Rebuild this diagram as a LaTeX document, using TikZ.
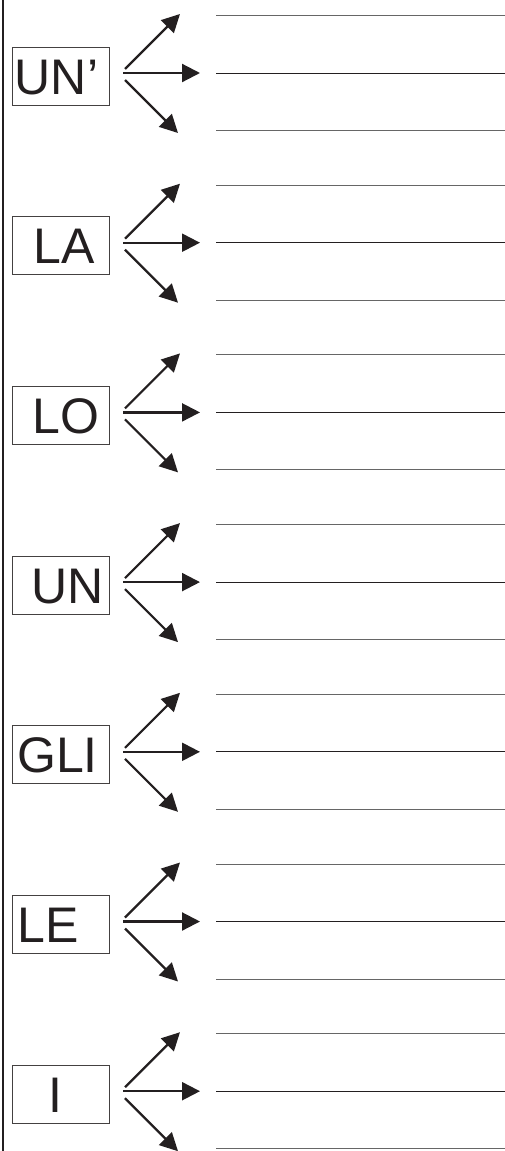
\documentclass[tikz,border=0pt]{standalone}
\usepackage{fontspec}
\setmainfont{Liberation Sans}
\usetikzlibrary{arrows.meta}
\definecolor{ink}{HTML}{231F20}
\begin{document}
\begin{tikzpicture}[x=1pt,y=-1pt,
  wordbox/.style={draw=ink!85,line width=0.9pt,minimum width=97pt,minimum height=58pt,inner sep=0pt},
  wordlbl/.style={font=\fontsize{50}{50}\selectfont,text=ink,inner sep=0pt,anchor=base},
  arr/.style={draw=ink,line width=2.2pt,-{Triangle[length=18pt,width=18pt]}},
  wline/.style={draw=black!60,line width=1pt},
  midline/.style={draw=ink,line width=1pt}]
\useasboundingbox (0,0) rectangle (505,1151);
\coordinate (edgeTop) at (3,0);
\coordinate (edgeBot) at (3,1151);
\draw[ink,line width=2.5pt] (edgeTop) -- (edgeBot);
\foreach \k/\t/\x in {0/UN’/56.5,1/LA/64.5,2/LO/66,3/UN/67.5,4/GLI/57.5,5/LE/48.5,6/I/55.5}{
  \pgfmathsetmacro\c{73+169.7*\k}
  \node[wordbox] (b\k) at (60.5,\c+3) {};
  \node[wordlbl] (t\k) at (\x,\c+21) {\t};
  \coordinate (us\k) at (125,\c-4);
  \coordinate (ue\k) at (180,\c-59);
  \coordinate (ms\k) at (123,\c);
  \coordinate (me\k) at (200,\c);
  \coordinate (ls\k) at (125,\c+7);
  \coordinate (le\k) at (178,\c+60);
  \draw[arr] (us\k) -- (ue\k);
  \draw[arr] (ms\k) -- (me\k);
  \draw[arr] (ls\k) -- (le\k);
  \coordinate (la\k) at (216,\c-57.5);
  \coordinate (lb\k) at (505,\c-57.5);
  \coordinate (lc\k) at (216,\c);
  \coordinate (ld\k) at (505,\c);
  \coordinate (lf\k) at (216,\c+57.5);
  \coordinate (lg\k) at (505,\c+57.5);
  \draw[wline] (la\k) -- (lb\k);
  \draw[midline] (lc\k) -- (ld\k);
  \draw[wline] (lf\k) -- (lg\k);
}
\end{tikzpicture}
\end{document}
